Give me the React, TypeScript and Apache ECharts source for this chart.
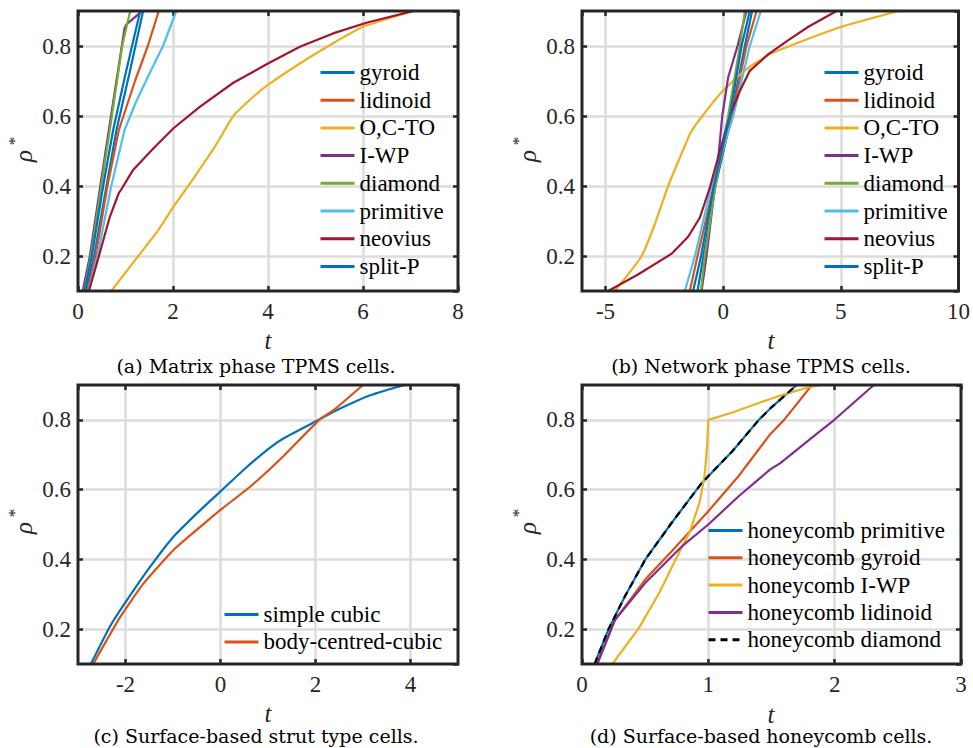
import React, { useEffect, useRef } from 'react';
import * as echarts from 'echarts';

// ---------- colours (MATLAB default order) ----------
const BLUE = '#0072BD';
const ORANGE = '#D95319';
const YELLOW = '#EDB120';
const PURPLE = '#7E2F8E';
const GREEN = '#77AC30';
const CYAN = '#4DBEEE';
const RED = '#A2142F';
const BLACK = '#000000';

// ---------- (a) Matrix phase TPMS cells: [t, rho*] ----------
const aGyroid = [[0.17, 0.1], [0.34, 0.2], [0.6, 0.4], [0.81, 0.56], [1.08, 0.72], [1.37, 0.9]];
const aLidinoid = [[0.2, 0.1], [0.37, 0.2], [0.62, 0.4], [0.86, 0.56], [1.2, 0.7], [1.47, 0.8], [1.7, 0.9]];
const aOCTO = [[0.7, 0.1], [1.27, 0.2], [1.69, 0.274], [2.01, 0.341], [2.32, 0.4], [2.88, 0.512], [3.27, 0.6], [3.69, 0.655], [4.0, 0.689], [4.67, 0.75], [5.37, 0.808], [6.0, 0.855], [7.06, 0.9]];
const aIWP = [[0.1, 0.1], [0.25, 0.2], [0.47, 0.4], [0.65, 0.56], [0.98, 0.85], [1.02, 0.862], [1.3, 0.894], [1.33, 0.9]];
const aDiamond = [[0.13, 0.1], [0.27, 0.2], [0.49, 0.4], [0.67, 0.56], [0.93, 0.8], [1.03, 0.86], [1.1, 0.9]];
const aPrimitive = [[0.22, 0.1], [0.41, 0.2], [0.7, 0.4], [0.98, 0.56], [1.22, 0.64], [1.5, 0.72], [1.79, 0.8], [2.07, 0.9]];
const aNeovius = [[0.23, 0.1], [0.44, 0.2], [0.67, 0.312], [0.86, 0.38], [0.92, 0.392], [1.16, 0.446], [1.59, 0.508], [2.01, 0.565], [2.57, 0.627], [3.27, 0.695], [4.0, 0.75], [4.67, 0.798], [5.37, 0.836], [6.09, 0.867], [7.06, 0.9]];
const aSplitP = [[0.14, 0.1], [0.29, 0.2], [0.53, 0.4], [0.74, 0.56], [1.0, 0.72], [1.31, 0.9]];

// ---------- (b) Network phase TPMS cells ----------
const bGyroid = [[-1.09, 0.1], [-0.84, 0.2], [-0.33, 0.4], [0.35, 0.6], [0.92, 0.8], [1.23, 0.9]];
const bLidinoid = [[-1.42, 0.1], [-1.09, 0.2], [-0.4, 0.4], [0.38, 0.6], [0.99, 0.8], [1.42, 0.9]];
const bOCTO = [[-4.61, 0.1], [-3.48, 0.198], [-2.91, 0.29], [-2.34, 0.4], [-1.91, 0.47], [-1.4, 0.55], [-1.0, 0.59], [-0.07, 0.668], [0.92, 0.73], [1.91, 0.774], [3.48, 0.817], [5.03, 0.855], [7.45, 0.9]];
const bIWP = [[-0.92, 0.1], [-0.71, 0.2], [-0.35, 0.4], [-0.18, 0.5], [-0.04, 0.6], [0.21, 0.71], [0.61, 0.8], [0.99, 0.9]];
const bDiamond = [[-0.95, 0.1], [-0.78, 0.2], [-0.33, 0.4], [0.21, 0.6], [0.71, 0.8], [0.92, 0.9]];
const bPrimitive = [[-1.63, 0.1], [-1.2, 0.2], [-0.5, 0.4], [0.43, 0.6], [1.13, 0.8], [1.6, 0.9]];
const bNeovius = [[-4.89, 0.1], [-3.62, 0.147], [-2.2, 0.206], [-1.49, 0.255], [-0.99, 0.31], [-0.57, 0.395], [-0.14, 0.5], [0.28, 0.6], [0.7, 0.67], [1.13, 0.729], [1.91, 0.776], [2.77, 0.817], [3.62, 0.855], [4.82, 0.9]];
const bSplitP = [[-1.28, 0.1], [-0.94, 0.2], [-0.4, 0.4], [0.28, 0.6], [0.78, 0.8], [1.13, 0.9]];

// ---------- (c) Surface-based strut type cells ----------
const cSimpleCubic = [[-2.73, 0.1], [-2.33, 0.207], [-1.97, 0.283], [-1.48, 0.379], [-0.99, 0.465], [-0.42, 0.542], [0.0, 0.595], [0.49, 0.657], [0.99, 0.715], [1.34, 0.748], [2.01, 0.796], [2.4, 0.825], [3.1, 0.868], [3.87, 0.9]];
const cBCC = [[-2.68, 0.1], [-2.11, 0.235], [-1.62, 0.331], [-0.99, 0.427], [-0.42, 0.494], [0.0, 0.542], [0.63, 0.609], [1.34, 0.698], [2.08, 0.8], [2.4, 0.83], [3.0, 0.9]];

// ---------- (d) Surface-based honeycomb cells ----------
const dPrimitive = [[0.1, 0.1], [0.21, 0.2], [0.34, 0.294], [0.5, 0.399], [0.71, 0.505], [0.95, 0.62], [1.19, 0.71], [1.4, 0.8], [1.5, 0.836], [1.7, 0.9]];
const dGyroid = [[0.12, 0.1], [0.26, 0.226], [0.5, 0.342], [0.71, 0.423], [1.0, 0.538], [1.24, 0.639], [1.49, 0.759], [1.6, 0.8], [1.82, 0.9]];
const dIWP = [[0.24, 0.1], [0.45, 0.203], [0.61, 0.303], [0.74, 0.399], [0.85, 0.476], [0.93, 0.562], [0.97, 0.639], [0.99, 0.725], [1.0, 0.8], [1.19, 0.821], [1.49, 0.86], [1.6, 0.873], [1.76, 0.89], [1.88, 0.9]];
const dLidinoid = [[0.12, 0.1], [0.26, 0.226], [0.5, 0.332], [0.79, 0.437], [1.0, 0.5], [1.24, 0.581], [1.49, 0.658], [1.57, 0.676], [1.85, 0.758], [2.0, 0.801], [2.31, 0.9]];
const dDiamond = [[0.1, 0.1], [0.21, 0.2], [0.34, 0.294], [0.5, 0.399], [0.71, 0.505], [0.95, 0.62], [1.19, 0.71], [1.4, 0.8], [1.5, 0.836], [1.7, 0.9]];

// ---------- axes / labels ----------
const yRange = { min: 0.1, max: 0.9, step: 0.2 };
const xRanges = [
  { min: 0, max: 8, step: 2 },
  { min: -6, max: 10, step: 5 },
  { min: -3, max: 5, step: 2 },
  { min: 0, max: 3, step: 1 },
];
const captions = [
  '(a) Matrix phase TPMS cells.',
  '(b) Network phase TPMS cells.',
  '(c) Surface-based strut type cells.',
  '(d) Surface-based honeycomb cells.',
];

type S = { name: string; data: number[][]; color: string; dashed?: boolean; smooth?: number };
const panels: S[][] = [
  [
    { name: 'gyroid', data: aGyroid, color: BLUE },
    { name: 'lidinoid', data: aLidinoid, color: ORANGE },
    { name: 'O,C-TO', data: aOCTO, color: YELLOW, smooth: 0.15 },
    { name: 'I-WP', data: aIWP, color: PURPLE },
    { name: 'diamond', data: aDiamond, color: GREEN },
    { name: 'primitive', data: aPrimitive, color: CYAN },
    { name: 'neovius', data: aNeovius, color: RED },
    { name: 'split-P', data: aSplitP, color: BLUE },
  ],
  [
    { name: 'gyroid', data: bGyroid, color: BLUE },
    { name: 'lidinoid', data: bLidinoid, color: ORANGE },
    { name: 'O,C-TO', data: bOCTO, color: YELLOW, smooth: 0.15 },
    { name: 'I-WP', data: bIWP, color: PURPLE },
    { name: 'diamond', data: bDiamond, color: GREEN },
    { name: 'primitive', data: bPrimitive, color: CYAN },
    { name: 'neovius', data: bNeovius, color: RED },
    { name: 'split-P', data: bSplitP, color: BLUE },
  ],
  [
    { name: 'simple cubic', data: cSimpleCubic, color: BLUE, smooth: 0.15 },
    { name: 'body-centred-cubic', data: cBCC, color: ORANGE, smooth: 0.15 },
  ],
  [
    { name: 'honeycomb primitive', data: dPrimitive, color: BLUE },
    { name: 'honeycomb gyroid', data: dGyroid, color: ORANGE },
    { name: 'honeycomb I-WP', data: dIWP, color: YELLOW },
    { name: 'honeycomb lidinoid', data: dLidinoid, color: PURPLE },
    { name: 'honeycomb diamond', data: dDiamond, color: BLACK, dashed: true },
  ],
];

// ---------- layout ----------
const grids = [
  { left: 78, top: 11, width: 380, height: 280 },
  { left: 582, top: 11, width: 379, height: 280 },
  { left: 78, top: 385, width: 380, height: 279 },
  { left: 582, top: 385, width: 379, height: 279 },
];
const legendPos = [
  { left: 319, top: 61, gap: 4.7 },
  { left: 823, top: 61, gap: 4.7 },
  { left: 223, top: 603, gap: 4.4 },
  { left: 707, top: 519, gap: 4.3 },
];
const captionPos = [[256, 366], [761, 366], [256, 736], [761, 736]];
const tPos = [[268, 340], [771, 340], [268, 713], [771, 714]];
const rhoPos = [[23, 156], [527, 156], [23, 528], [527, 528]];
const starPos = [[14, 141], [518, 141], [14, 513], [518, 513]];

const SERIF = 'Liberation Serif';
const INK = '#262626';

function isMult(v: number, s: number) {
  return Math.abs(v / s - Math.round(v / s)) < 1e-9;
}

function valueAxis(gi: number, r: { min: number; max: number; step: number }, pos: string, main: boolean, isX: boolean) {
  const fixedInterval = isMult(r.min, r.step);
  const ax: any = {
    type: 'value',
    gridIndex: gi,
    position: pos,
    min: r.min,
    max: r.max,
    axisLine: { show: false, onZero: false },
    axisTick: { show: true, inside: true, length: 5, lineStyle: { color: INK, width: 2.5 } },
    axisLabel: main
      ? {
          show: true,
          color: INK,
          fontFamily: SERIF,
          fontSize: 23,
          margin: isX ? 9 : 7,
          showMinLabel: isX && isMult(r.min, r.step),
          showMaxLabel: isX && isMult(r.max, r.step),
        }
      : { show: false },
    splitLine: main
      ? { show: true, showMinLine: false, showMaxLine: false, lineStyle: { color: '#dcdcdc', width: 2.5 } }
      : { show: false },
  };
  if (fixedInterval) ax.interval = r.step;
  else {
    ax.minInterval = r.step;
    ax.maxInterval = r.step;
  }
  return ax;
}

export default function App() {
  const ref = useRef<HTMLDivElement>(null);
  useEffect(() => {
    if (!ref.current) return;
    const chart = echarts.init(ref.current, undefined, { renderer: 'svg' });

    const xAxis: any[] = [];
    const yAxis: any[] = [];
    grids.forEach((_, gi) => {
      xAxis.push(valueAxis(gi, xRanges[gi], 'bottom', true, true));
      xAxis.push(valueAxis(gi, xRanges[gi], 'top', false, true));
      yAxis.push(valueAxis(gi, yRange, 'left', true, false));
      yAxis.push(valueAxis(gi, yRange, 'right', false, false));
    });

    const series: any[] = [];
    panels.forEach((list, gi) =>
      list.forEach((s) =>
        series.push({
          type: 'line',
          name: s.name,
          data: s.data,
          xAxisIndex: gi * 2,
          yAxisIndex: gi * 2,
          symbol: 'none',
          showSymbol: false,
          smooth: s.smooth ? s.smooth : false,
          lineStyle: { color: s.color, width: 2.2, type: s.dashed ? [7, 5] : 'solid' },
          itemStyle: { color: s.color },
          z: 2,
        })
      )
    );

    const legend = panels.map((list, gi) => ({
      orient: 'vertical',
      left: legendPos[gi].left,
      top: legendPos[gi].top,
      padding: 0,
      itemGap: legendPos[gi].gap,
      itemWidth: 34,
      itemHeight: 14,
      selectedMode: false,
      lineStyle: { width: 3 },
      itemStyle: { opacity: 0, borderWidth: 0 },
      textStyle: { fontFamily: SERIF, fontSize: 23, color: '#000', lineHeight: 23 },
      data: list.map((s) => s.name),
    }));

    const graphic: any[] = [];
    captions.forEach((c, i) => {
      graphic.push({
        type: 'text',
        x: captionPos[i][0],
        y: captionPos[i][1],
        style: { text: c, fontFamily: 'DejaVu Serif', fontSize: 19, fill: '#000', align: 'center', verticalAlign: 'middle' },
      });
      graphic.push({
        type: 'text',
        x: tPos[i][0],
        y: tPos[i][1],
        style: { text: 't', fontFamily: SERIF, fontStyle: 'italic', fontSize: 25, fill: INK, align: 'center', verticalAlign: 'middle' },
      });
      graphic.push({
        type: 'text',
        x: rhoPos[i][0],
        y: rhoPos[i][1],
        rotation: Math.PI / 2,
        style: { text: 'ρ', fontFamily: SERIF, fontStyle: 'italic', fontSize: 25, fill: INK, align: 'center', verticalAlign: 'middle' },
      });
      graphic.push({
        type: 'text',
        x: starPos[i][0],
        y: starPos[i][1],
        rotation: Math.PI / 2,
        style: { text: '*', fontFamily: SERIF, fontSize: 17, fill: INK, align: 'center', verticalAlign: 'middle' },
      });
    });

    chart.setOption({
      animation: false,
      backgroundColor: '#ffffff',
      grid: grids.map((g) => ({
        ...g,
        show: true,
        z: 10,
        backgroundColor: 'transparent',
        borderColor: INK,
        borderWidth: 3,
        containLabel: false,
      })),
      xAxis,
      yAxis,
      legend,
      series,
      graphic,
    });
    return () => chart.dispose();
  }, []);
  return <div ref={ref} style={{ position: 'fixed', left: 0, top: 0, width: 973, height: 748 }} />;
}
